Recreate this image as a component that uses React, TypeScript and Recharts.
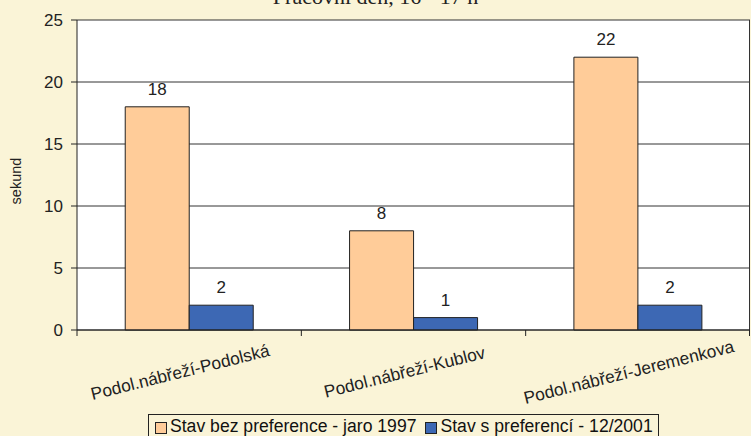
import React from 'react';
import { BarChart, Bar, XAxis, YAxis, CartesianGrid, Legend, LabelList } from 'recharts';

const categories = ['Podol.nábřeží-Podolská', 'Podol.nábřeží-Kublov', 'Podol.nábřeží-Jeremenkova'];
const beforeValues = [18, 8, 22];
const afterValues = [2, 1, 2];
const yTicks = [0, 5, 10, 15, 20, 25];
const seriesNames = ['Stav bez preference - jaro 1997', 'Stav s preferencí - 12/2001'];
const chartTitle = 'Pracovní den, 16 - 17 h';
const yAxisTitle = 'sekund';

const data = categories.map((name, i) => ({ name, before: beforeValues[i], after: afterValues[i] }));

const W = 751;
const H = 436;
const MARGIN = { top: 20, right: 1, left: 0, bottom: 0 };
const Y_AXIS_W = 77;
const PLOT_W = W - MARGIN.left - MARGIN.right - Y_AXIS_W;
const BAND = PLOT_W / categories.length;

const SANS = '"Liberation Sans", Arial, sans-serif';
const SERIF = '"Liberation Serif", "Times New Roman", serif';
const BG = '#FAF4D7';
const ORANGE = '#FFCC99';
const BLUE = '#3D68B4';
const INK = '#222';

const XTick = (props: any) => {
  const { x, y, payload, index } = props;
  const left = x - BAND / 2;
  const isLast = index === categories.length - 1;
  const cx = x - 9;
  const cy = y + 42;
  return (
    <g>
      <line x1={left} y1={y} x2={left} y2={y + 6} stroke={INK} strokeWidth={1} />
      {isLast && <line x1={x + BAND / 2 - 0.5} y1={y} x2={x + BAND / 2 - 0.5} y2={y + 6} stroke={INK} strokeWidth={1} />}
      <text
        x={cx}
        y={cy}
        textAnchor="middle"
        dominantBaseline="central"
        transform={`rotate(-14, ${cx}, ${cy})`}
        fontSize={17.3}
        fontFamily={SANS}
        fill={INK}
      >
        {payload.value}
      </text>
    </g>
  );
};

const LegendBox = (props: any) => {
  const { payload } = props;
  return (
    <div
      style={{
        boxSizing: 'border-box',
        height: 28,
        border: `1px solid ${INK}`,
        background: BG,
        display: 'flex',
        alignItems: 'flex-start',
        paddingLeft: 6,
        paddingTop: 2,
        fontFamily: SANS,
        fontSize: 17.6,
        lineHeight: '19px',
        color: '#111',
        whiteSpace: 'nowrap',
      }}
    >
      {(payload || []).map((p: any, i: number) => (
        <span key={i} style={{ display: 'inline-flex', alignItems: 'center', marginRight: 9 }}>
          <span
            style={{
              display: 'inline-block',
              boxSizing: 'border-box',
              width: 12,
              height: 12,
              background: p.color,
              border: `1px solid ${INK}`,
              marginRight: 3,
              marginTop: 3,
            }}
          />
          <span>{p.value}</span>
        </span>
      ))}
    </div>
  );
};

const YLabel = (props: any) => {
  const { viewBox } = props;
  const cx = viewBox.x + 16;
  const cy = viewBox.y + viewBox.height / 2 + 6;
  return (
    <text
      x={cx}
      y={cy}
      textAnchor="middle"
      dominantBaseline="central"
      transform={`rotate(-90, ${cx}, ${cy})`}
      fontSize={14.5}
      fontFamily={SANS}
      fill={INK}
    >
      {yAxisTitle}
    </text>
  );
};

export default function App() {
  return (
    <div style={{ position: 'fixed', left: 0, top: 0, width: W, height: H, background: BG, overflow: 'hidden' }}>
      <svg width={W} height={30} style={{ position: 'absolute', left: 0, top: 0 }}>
        <text x={W / 2} y={4} textAnchor="middle" fontSize={22} fontFamily={SERIF} fill={INK}>
          {chartTitle}
        </text>
      </svg>
      <BarChart width={W} height={H} data={data} margin={MARGIN} barCategoryGap="21.5%" barGap={0}>
        <CartesianGrid
          fill="#ffffff"
          stroke="#333"
          strokeWidth={1}
          verticalCoordinatesGenerator={({ offset }: any) => [offset.left + offset.width - 0.5]}
        />
        <XAxis
          dataKey="name"
          height={85}
          interval={0}
          tickLine={false}
          tickSize={0}
          tickMargin={0}
          axisLine={{ stroke: INK }}
          tick={<XTick />}
        />
        <YAxis
          width={Y_AXIS_W}
          domain={[0, 25]}
          ticks={yTicks}
          tickSize={6}
          tickMargin={8}
          axisLine={{ stroke: INK }}
          tickLine={{ stroke: INK }}
          tick={{ fill: INK, fontSize: 17, fontFamily: SANS }}
          label={<YLabel />}
        />
        <Legend
          verticalAlign="bottom"
          height={21}
          content={<LegendBox />}
          wrapperStyle={{ left: 148, width: 511, top: 414, bottom: 'auto' }}
        />
        <Bar dataKey="before" name={seriesNames[0]} fill={ORANGE} stroke={INK} strokeWidth={1} isAnimationActive={false}>
          <LabelList dataKey="before" position="top" offset={12} fill={INK} fontSize={17} fontFamily={SANS} />
        </Bar>
        <Bar dataKey="after" name={seriesNames[1]} fill={BLUE} stroke={INK} strokeWidth={1} isAnimationActive={false}>
          <LabelList dataKey="after" position="top" offset={12} fill={INK} fontSize={17} fontFamily={SANS} />
        </Bar>
      </BarChart>
    </div>
  );
}
